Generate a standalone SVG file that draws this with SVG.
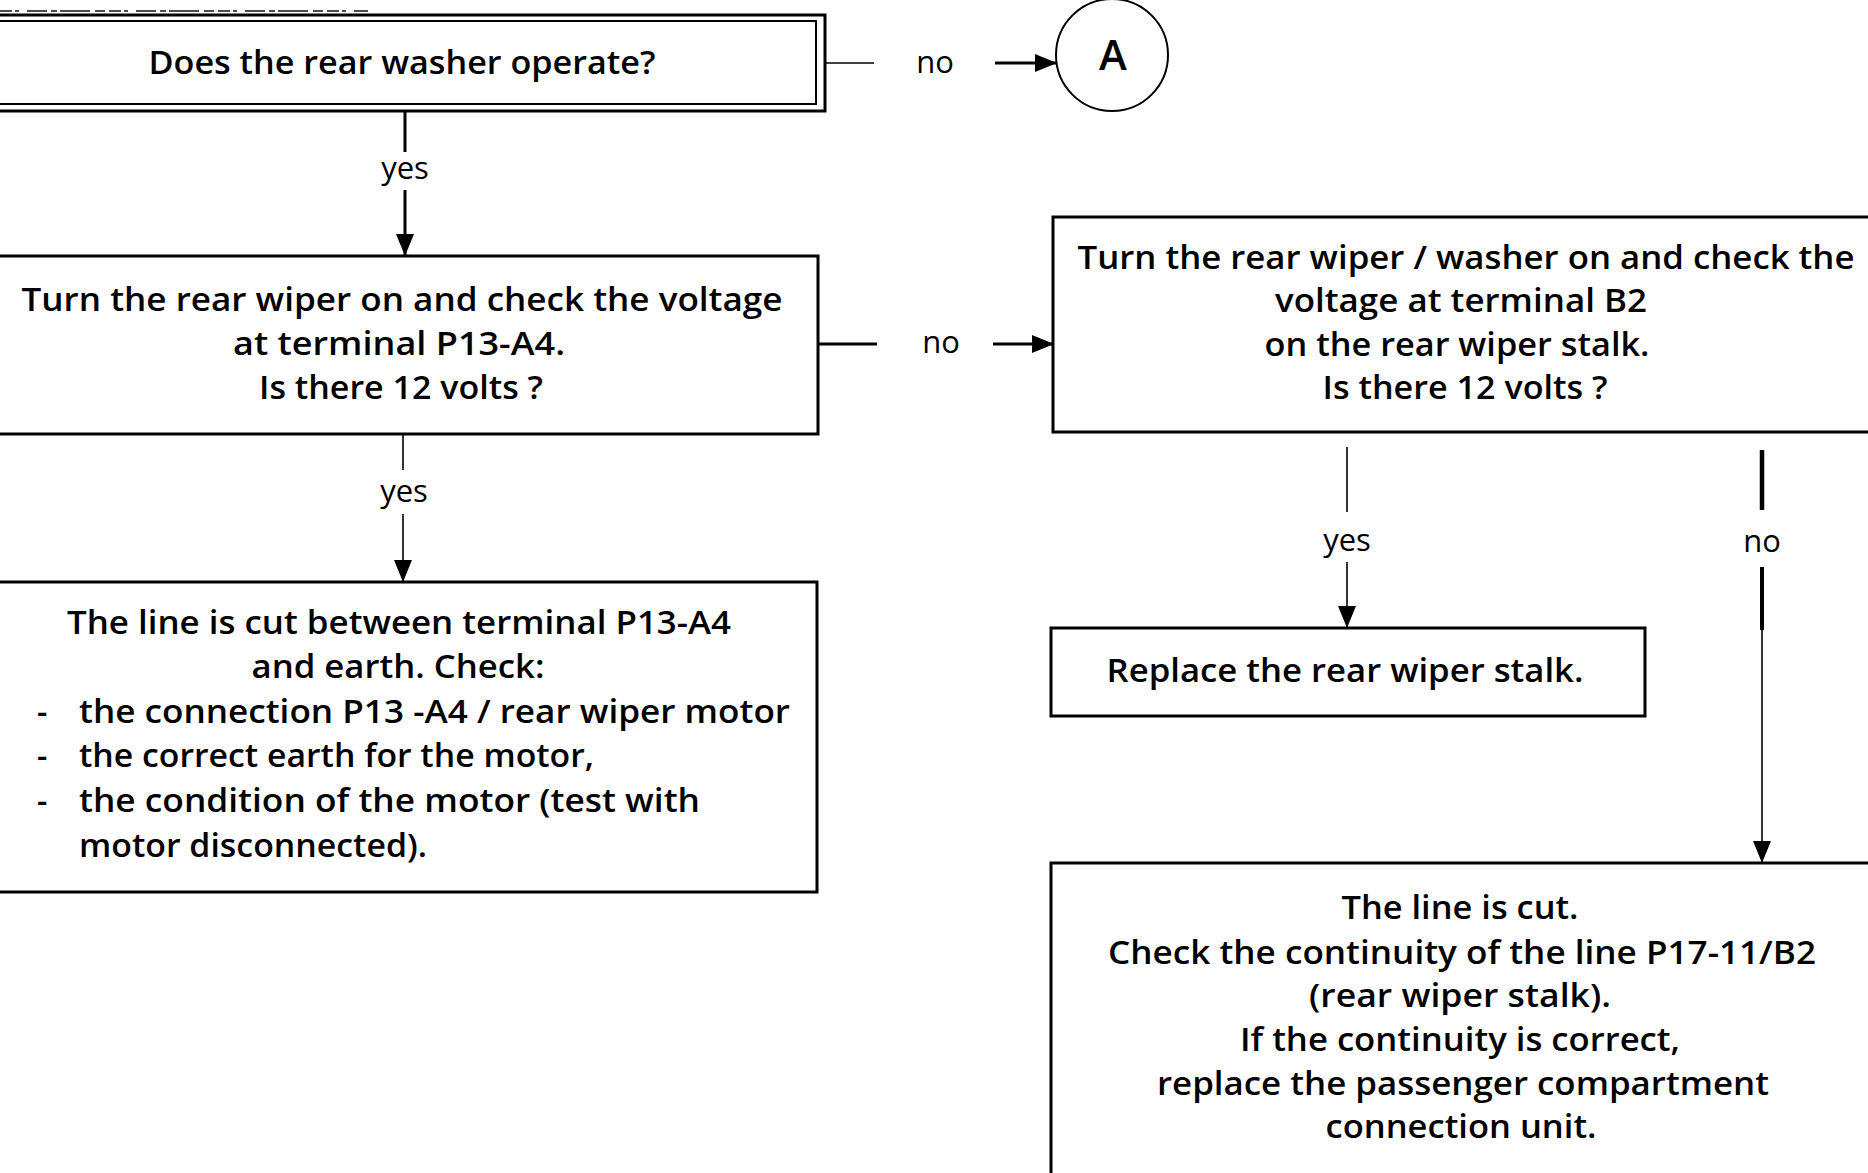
<svg xmlns="http://www.w3.org/2000/svg" width="1868" height="1173" viewBox="0 0 1868 1173">
  <defs>
    <marker id="arrow" markerUnits="userSpaceOnUse" markerWidth="22" markerHeight="18" viewBox="0 0 22 18" refX="22" refY="9" orient="auto">
      <path d="M0,0 L22,9 L0,18 z" fill="#000"/>
    </marker>
    <style>
      .box { fill: #fff; stroke: #000; stroke-width: 3; }
      .txt { font-family: "Open Sans", "Noto Sans", "Liberation Sans", sans-serif; font-size: 32px; font-weight: 600; fill: #000; }
      .c { text-anchor: middle; }
      .lbl { font-family: "Open Sans", "Noto Sans", "Liberation Sans", sans-serif; font-size: 31px; fill: #000; text-anchor: middle; }
      .wire { fill: none; stroke: #000; stroke-width: 3; }
      .wire-thin { fill: none; stroke: #000; stroke-width: 1.6; }
    </style>
  </defs>
  <rect width="1868" height="1173" fill="#fff"/>

  <!-- stray marks along the top edge -->
  <line x1="0" y1="11" x2="368" y2="11" stroke="#000" stroke-width="2" stroke-dasharray="12 3 4 8 20 4 6 3 30 5 10 4" opacity="0.7"/>

  <!-- connectors -->
  <g id="connectors">
    <!-- Q1 no -> A -->
    <line class="wire-thin" x1="824" y1="63" x2="874" y2="63"/>
    <line class="wire" x1="995" y1="63" x2="1057" y2="63" marker-end="url(#arrow)"/>
    <!-- Q1 yes -> Q2 -->
    <line class="wire" x1="405" y1="112" x2="405" y2="152"/>
    <line class="wire" x1="405" y1="190" x2="405" y2="256" marker-end="url(#arrow)"/>
    <!-- Q2 no -> Q3 -->
    <line class="wire" x1="818" y1="344" x2="877" y2="344"/>
    <line class="wire" x1="993" y1="344" x2="1054" y2="344" marker-end="url(#arrow)"/>
    <!-- Q2 yes -> earth check -->
    <line class="wire-thin" x1="403" y1="434" x2="403" y2="470"/>
    <line class="wire-thin" x1="403" y1="514" x2="403" y2="582" marker-end="url(#arrow)"/>
    <!-- Q3 yes -> replace stalk -->
    <line class="wire-thin" x1="1347" y1="447" x2="1347" y2="512"/>
    <line class="wire-thin" x1="1347" y1="562" x2="1347" y2="628" marker-end="url(#arrow)"/>
    <!-- Q3 no -> line cut -->
    <line x1="1762" y1="450" x2="1762" y2="510" stroke="#000" stroke-width="4.5"/>
    <line x1="1762" y1="567" x2="1762" y2="630" stroke="#000" stroke-width="4"/>
    <line class="wire-thin" x1="1762" y1="620" x2="1762" y2="863" marker-end="url(#arrow)"/>
  </g>

  <!-- connector labels -->
  <g id="labels">
    <text class="lbl" x="935" y="73">no</text>
    <text class="lbl" x="405" y="179">yes</text>
    <text class="lbl" x="941" y="353">no</text>
    <text class="lbl" x="404" y="502">yes</text>
    <text class="lbl" x="1347" y="551">yes</text>
    <text class="lbl" x="1762" y="552">no</text>
  </g>

  <!-- Q1: rear washer -->
  <g id="q-washer">
    <rect x="-10" y="15" width="835" height="96" fill="#fff" stroke="#000" stroke-width="3"/>
    <rect x="-10" y="21" width="826" height="83" fill="none" stroke="#000" stroke-width="2"/>
    <text class="txt c" x="402" y="74" textLength="507" lengthAdjust="spacingAndGlyphs">Does the rear washer operate?</text>
  </g>

  <!-- off-page connector A -->
  <g id="conn-a">
    <circle cx="1112" cy="55" r="56" fill="#fff" stroke="#000" stroke-width="2"/>
    <text class="c" x="1113" y="70" font-family="Open Sans, Noto Sans, sans-serif" font-size="42" font-weight="600">A</text>
  </g>

  <!-- Q2: voltage at P13-A4 -->
  <g id="q-p13">
    <rect class="box" x="-10" y="256" width="828" height="178"/>
    <text class="txt c" x="402" y="311" textLength="761" lengthAdjust="spacingAndGlyphs">Turn the rear wiper on and check the voltage</text>
    <text class="txt c" x="399" y="355" textLength="332" lengthAdjust="spacingAndGlyphs">at terminal  P13-A4.</text>
    <text class="txt c" x="401" y="399" textLength="284" lengthAdjust="spacingAndGlyphs">Is there 12 volts ?</text>
  </g>

  <!-- Q3: voltage at B2 -->
  <g id="q-b2">
    <rect class="box" x="1053" y="217" width="830" height="215"/>
    <text class="txt c" x="1466" y="269" textLength="777" lengthAdjust="spacingAndGlyphs">Turn the rear wiper / washer on and check the</text>
    <text class="txt c" x="1461" y="312" textLength="372" lengthAdjust="spacingAndGlyphs">voltage at terminal B2</text>
    <text class="txt c" x="1457" y="356" textLength="385" lengthAdjust="spacingAndGlyphs">on the rear wiper stalk.</text>
    <text class="txt c" x="1465" y="399" textLength="285" lengthAdjust="spacingAndGlyphs">Is there 12 volts ?</text>
  </g>

  <!-- earth / motor check -->
  <g id="a-earth">
    <rect class="box" x="-10" y="582" width="827" height="310"/>
    <text class="txt c" x="399" y="634" textLength="664" lengthAdjust="spacingAndGlyphs">The line is cut between terminal P13-A4</text>
    <text class="txt c" x="398" y="678" textLength="293" lengthAdjust="spacingAndGlyphs">and earth. Check:</text>
    <text class="txt" x="37" y="723">-</text>
    <text class="txt" x="79" y="723" textLength="711" lengthAdjust="spacingAndGlyphs">the connection P13 -A4 / rear wiper motor</text>
    <text class="txt" x="37" y="767">-</text>
    <text class="txt" x="79" y="767" textLength="515" lengthAdjust="spacingAndGlyphs">the correct earth for the motor,</text>
    <text class="txt" x="37" y="812">-</text>
    <text class="txt" x="79" y="812" textLength="621" lengthAdjust="spacingAndGlyphs">the condition of the motor (test with</text>
    <text class="txt" x="79" y="857" textLength="348" lengthAdjust="spacingAndGlyphs">motor disconnected).</text>
  </g>

  <!-- replace stalk -->
  <g id="a-stalk">
    <rect class="box" x="1051" y="628" width="594" height="88"/>
    <text class="txt c" x="1345" y="682" textLength="477" lengthAdjust="spacingAndGlyphs">Replace the rear wiper stalk.</text>
  </g>

  <!-- line cut / connection unit -->
  <g id="a-unit">
    <rect class="box" x="1051" y="863" width="830" height="320"/>
    <text class="txt c" x="1460" y="919" textLength="237" lengthAdjust="spacingAndGlyphs">The line is cut.</text>
    <text class="txt c" x="1462" y="964" textLength="708" lengthAdjust="spacingAndGlyphs">Check the continuity of the line P17-11/B2</text>
    <text class="txt c" x="1460" y="1007" textLength="302" lengthAdjust="spacingAndGlyphs">(rear wiper stalk).</text>
    <text class="txt c" x="1460" y="1051" textLength="440" lengthAdjust="spacingAndGlyphs">If the continuity is correct,</text>
    <text class="txt c" x="1463" y="1095" textLength="612" lengthAdjust="spacingAndGlyphs">replace the passenger compartment</text>
    <text class="txt c" x="1461" y="1138" textLength="271" lengthAdjust="spacingAndGlyphs">connection unit.</text>
  </g>
</svg>
